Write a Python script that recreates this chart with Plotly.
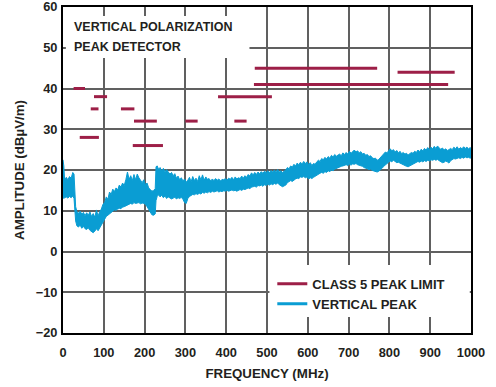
import plotly.graph_objects as go

# ---- Data ----
# CLASS 5 PEAK LIMIT segments (MHz start, MHz stop, dBuV/m)
limit_start = [26, 41, 68, 76, 142, 171, 174, 300, 380, 420, 468, 470, 820]
limit_stop = [54, 88, 87, 108, 175, 245, 230, 330, 512, 450, 944, 770, 960]
limit_level = [40, 28, 35, 38, 35, 26, 32, 32, 38, 32, 41, 45, 44]

# VERTICAL PEAK band (upper / lower envelope)
freq = [0, 2, 4, 8, 12, 16, 20, 24, 27, 29, 31, 34, 38, 42, 46, 50, 54, 58, 62, 66,
        70, 74, 78, 82, 86, 90, 94, 98, 102, 106, 110, 114, 118, 122, 126, 130, 134,
        138, 142, 146, 150, 154, 158, 162, 166, 170, 174, 178, 182, 186, 190, 194,
        198, 202, 206, 210, 214, 218, 222, 226, 228, 231, 234, 238, 242, 246, 250,
        254, 258, 262, 266, 270, 274, 278, 282, 286, 290, 294, 298, 302, 306, 310,
        314, 318, 322, 326, 330, 334, 338, 342, 346, 350, 354, 358, 362, 366, 370,
        374, 378, 382, 386, 390, 394, 398, 402, 406, 410, 414, 418, 422, 426, 430,
        434, 438, 442, 446, 450, 454, 458, 462, 466, 470, 474, 478, 482, 486, 490,
        494, 498, 502, 506, 510, 514, 518, 522, 526, 530, 534, 538, 542, 546, 550,
        554, 558, 562, 566, 570, 574, 578, 582, 586, 590, 594, 598, 602, 606, 610,
        614, 618, 622, 626, 630, 634, 638, 642, 646, 650, 654, 658, 662, 666, 670,
        674, 678, 682, 686, 690, 694, 698, 702, 706, 710, 714, 718, 722, 726, 730,
        734, 738, 742, 746, 750, 754, 758, 762, 766, 770, 774, 778, 782, 786, 790,
        794, 798, 802, 806, 810, 814, 818, 822, 826, 830, 834, 838, 842, 846, 850,
        854, 858, 862, 866, 870, 874, 878, 882, 886, 890, 894, 898, 902, 906, 910,
        914, 918, 922, 926, 930, 934, 938, 942, 946, 950, 954, 958, 962, 966, 970,
        974, 978, 982, 986, 990, 994, 998, 1000]
peak_upper = [22.5, 21.0, 17.5, 18.2, 17.6, 18.4, 18.0, 19.4, 19.0, 16.0, 11.0, 9.8, 9.4,
              9.9, 9.2, 9.6, 8.8, 9.5, 8.9, 9.7, 8.6, 9.3, 8.4, 10.2, 8.7, 9.8, 10.4,
              11.6, 12.0, 13.4, 12.8, 14.6, 14.0, 15.3, 14.7, 15.6, 15.1, 16.3, 15.8,
              16.8, 16.2, 17.6, 19.5, 17.7, 18.6, 17.4, 18.9, 17.6, 19.0, 18.1, 17.3,
              16.9, 17.6, 16.4, 16.8, 15.6, 15.2, 14.8, 15.0, 15.4, 20.8, 21.0, 20.2,
              20.6, 19.7, 20.4, 19.6, 20.1, 19.5, 19.0, 19.4, 18.6, 19.1, 18.0, 18.5,
              17.6, 18.1, 17.3, 17.8, 17.0, 17.5, 18.2, 17.1, 18.4, 17.4, 18.0, 17.2,
              18.6, 17.6, 18.8, 17.5, 18.3, 17.7, 17.9, 17.3, 17.8, 17.4, 17.9, 17.5,
              17.8, 17.3, 17.7, 17.6, 17.9, 17.5, 18.0, 17.7, 18.2, 17.6, 18.3, 17.8,
              18.1, 17.9, 18.5, 18.0, 18.6, 18.2, 18.9, 18.5, 19.3, 18.8, 19.4, 18.9,
              19.5, 19.1, 19.6, 19.2, 19.7, 19.4, 19.8, 19.3, 19.9, 19.5, 20.0, 19.6,
              20.1, 19.5, 19.8, 19.4, 19.6, 20.0, 20.6, 20.3, 21.0, 20.7, 21.4, 21.0,
              21.7, 21.3, 21.9, 21.5, 22.1, 21.6, 22.0, 21.3, 21.8, 21.1, 21.6, 21.4,
              22.0, 22.4, 22.1, 22.8, 22.5, 23.1, 22.7, 23.3, 22.9, 23.6, 23.2, 23.8,
              23.4, 23.7, 23.9, 23.5, 24.2, 23.8, 24.3, 23.9, 24.6, 24.1, 24.5, 24.9,
              24.4, 24.7, 24.2, 24.5, 23.9, 24.1, 23.6, 23.8, 23.3, 23.5, 23.0, 22.8,
              22.9, 22.4, 22.6, 23.1, 23.6, 23.9, 24.4, 24.2, 24.8, 25.2, 24.7, 25.0,
              24.4, 24.8, 24.2, 24.6, 24.0, 24.3, 23.9, 24.1, 23.7, 24.0, 24.3, 24.1,
              24.6, 24.3, 24.9, 24.5, 25.1, 24.7, 25.3, 24.9, 25.5, 25.0, 25.6, 25.2,
              25.8, 25.3, 25.9, 25.4, 25.1, 25.4, 24.9, 25.2, 24.8, 25.0, 25.3, 25.0,
              25.6, 25.2, 25.7, 25.1, 25.5, 25.2, 25.7, 25.3, 25.6, 25.2, 25.5, 25.3]
peak_lower = [13.5, 13.0, 13.2, 13.4, 13.1, 13.5, 13.2, 13.6, 13.0, 10.0, 7.5, 6.3, 6.0,
              6.5, 5.7, 6.2, 5.6, 5.4, 5.8, 5.2, 4.9, 4.6, 5.0, 5.6, 5.1, 5.8, 6.8, 7.4,
              8.0, 8.6, 8.9, 9.3, 9.6, 9.9, 10.2, 10.1, 10.4, 10.6, 10.5, 10.9, 11.0,
              11.2, 11.4, 11.5, 11.8, 11.6, 12.0, 11.8, 11.9, 12.0, 11.7, 11.9, 11.8,
              11.6, 11.0, 10.2, 9.4, 9.0, 8.9, 9.2, 12.5, 13.6, 13.9, 13.4, 13.8, 13.2,
              13.6, 13.0, 13.4, 13.2, 12.9, 13.1, 13.3, 12.9, 13.2, 13.0, 13.3, 12.8,
              12.0, 11.8, 13.0, 13.5, 13.8, 14.0, 13.9, 14.2, 14.0, 14.3, 14.1, 14.5,
              14.3, 14.6, 14.4, 14.7, 14.5, 14.8, 14.6, 14.7, 14.9, 14.6, 14.8, 14.7,
              14.9, 14.8, 15.0, 14.8, 14.9, 15.1, 14.9, 15.0, 14.8, 15.1, 15.2, 15.0,
              15.3, 15.2, 15.4, 15.6, 15.4, 15.8, 15.9, 16.0, 15.8, 16.2, 16.1, 16.3,
              16.0, 16.4, 16.2, 16.5, 16.3, 16.6, 16.4, 16.7, 16.5, 16.8, 16.4, 16.2,
              15.9, 16.1, 16.3, 16.9, 17.1, 17.4, 17.2, 17.6, 17.8, 18.0, 17.9, 18.3,
              18.2, 18.4, 18.1, 18.3, 17.8, 18.1, 17.9, 18.2, 18.5, 18.8, 19.0, 19.2,
              19.4, 19.2, 19.6, 19.4, 19.8, 19.6, 20.0, 19.8, 20.2, 20.4, 20.6, 20.8,
              20.9, 21.0, 21.1, 21.3, 21.1, 21.4, 21.2, 21.5, 21.4, 21.6, 21.3, 21.2,
              21.0, 20.9, 20.6, 20.5, 20.3, 20.1, 20.2, 19.9, 19.7, 19.6, 19.5, 19.7,
              20.0, 20.4, 20.9, 21.3, 21.6, 21.9, 22.2, 22.0, 22.4, 22.1, 21.8, 21.9,
              21.6, 21.5, 21.3, 21.0, 20.9, 20.8, 21.0, 21.3, 21.6, 21.8, 22.0, 22.1,
              21.9, 22.2, 22.0, 22.3, 22.1, 22.4, 22.2, 22.5, 22.4, 22.6, 22.4, 22.6,
              22.3, 22.0, 21.8, 21.9, 22.2, 22.0, 21.7, 22.3, 22.6, 22.8, 22.7, 22.9,
              23.0, 22.8, 23.1, 22.9, 23.2, 23.0, 23.1, 22.9, 23.0]

x_ticks = [0, 100, 200, 300, 400, 500, 600, 700, 800, 900, 1000]
y_ticks = [-20, -10, 0, 10, 20, 30, 40, 50, 60]

RED = "#9d1f47"
BLUE = "#0a9dd3"
FONT = "Liberation Sans, Arial, sans-serif"
TXT = "#231f20"

# build limit polyline with gaps
lim_x, lim_y = [], []
for a, b, v in zip(limit_start, limit_stop, limit_level):
    lim_x += [a, b, None]
    lim_y += [v, v, None]

fig = go.Figure()
fig.add_trace(go.Scatter(x=freq, y=peak_lower, mode="lines",
                         line=dict(color=BLUE, width=1), showlegend=False,
                         hoverinfo="skip"))
fig.add_trace(go.Scatter(x=freq, y=peak_upper, mode="lines", fill="tonexty",
                         fillcolor=BLUE, line=dict(color=BLUE, width=1),
                         showlegend=False, hoverinfo="skip"))
fig.add_trace(go.Scatter(x=lim_x, y=lim_y, mode="lines",
                         line=dict(color=RED, width=3),
                         name="CLASS 5 PEAK LIMIT"))
fig.add_trace(go.Scatter(x=[None], y=[None], mode="lines",
                         line=dict(color=BLUE, width=3), name="VERTICAL PEAK"))

# white boxes hiding grid behind text blocks
fig.add_shape(type="rect", xref="x", yref="y", x0=7, x1=457, y0=47.5, y1=57.8,
              fillcolor="white", line=dict(width=0), layer="between")
fig.add_shape(type="rect", xref="x", yref="y", x0=506, x1=997, y0=-16.1, y1=-3.3,
              fillcolor="white", line=dict(width=0), layer="between")

fig.add_annotation(x=21, y=55.1, xref="x", yref="y", xanchor="left", yanchor="middle",
                   text="VERTICAL POLARIZATION", showarrow=False,
                   font=dict(family=FONT, size=12.5, color=TXT, weight="bold"))
fig.add_annotation(x=21, y=50.2, xref="x", yref="y", xanchor="left", yanchor="middle",
                   text="PEAK DETECTOR", showarrow=False,
                   font=dict(family=FONT, size=12.5, color=TXT, weight="bold"))

axis_common = dict(showline=True, linecolor="black", linewidth=2, mirror=True,
                   showgrid=True, gridcolor="#606060", gridwidth=1.5,
                   zeroline=False, ticks="", automargin=False,
                   ticklabeloverflow="allow",
                   tickfont=dict(family=FONT, size=12.8, color=TXT, weight="bold"))

fig.update_xaxes(range=[0, 1000], tickvals=x_ticks, ticklabelstandoff=7,
                 title=dict(text="FREQUENCY (MHz)", standoff=9,
                            font=dict(family=FONT, size=13.3, color=TXT, weight="bold")),
                 **axis_common)
fig.update_yaxes(range=[-20, 60], tickvals=y_ticks, ticklabelstandoff=1,
                 title=dict(text="AMPLITUDE (dBµV/m)", standoff=8,
                            font=dict(family=FONT, size=13.3, color=TXT, weight="bold")),
                 **axis_common)

fig.update_layout(
    width=496, height=387,
    margin=dict(l=63, r=25, t=7, b=54),
    paper_bgcolor="white", plot_bgcolor="white",
    font=dict(family=FONT, size=12, color=TXT),
    legend=dict(x=0.513, y=0.197, xanchor="left", yanchor="top",
                bgcolor="rgba(0,0,0,0)", borderwidth=0, traceorder="normal",
                font=dict(family=FONT, size=13, color=TXT, weight="bold"),
                tracegroupgap=0),
)

fig.write_html("out.html", config={"displayModeBar": False},
               post_script="document.body.style.margin='0';")
